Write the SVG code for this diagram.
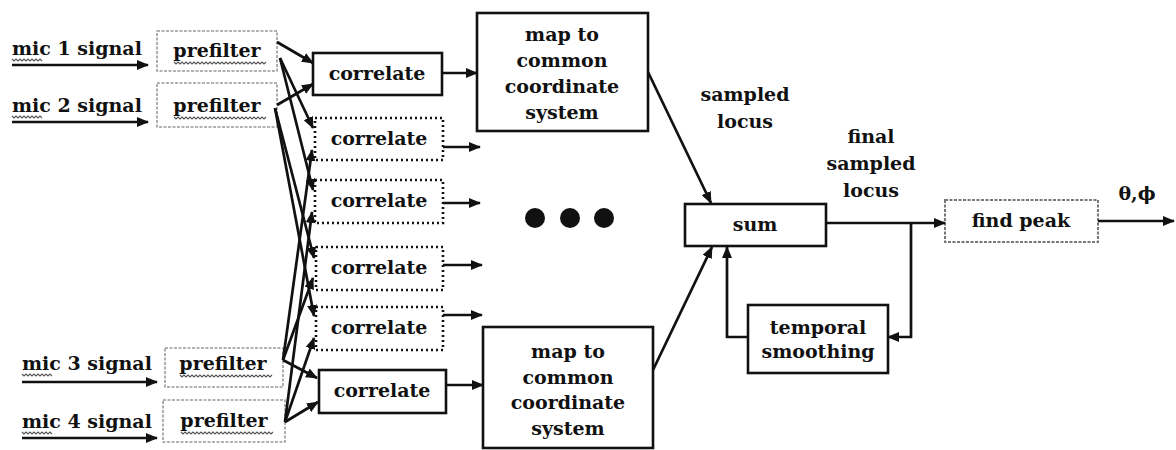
<svg xmlns="http://www.w3.org/2000/svg" width="1176" height="450" viewBox="0 0 1176 450">
<style>
text{font-family:"DejaVu Serif","Liberation Serif",serif;font-weight:bold;font-size:19px;fill:#111}
.c{text-anchor:middle}
.solid{fill:#fff;stroke:#111;stroke-width:2.6}
.dot{fill:#fff;stroke:#111;stroke-width:2.6;stroke-dasharray:2 3}
.pre{fill:#fff;stroke:#999;stroke-width:1.6;stroke-dasharray:3 1.5}
.ln{fill:none;stroke:#111;stroke-width:2.7;marker-end:url(#ah)}
.sq{fill:none;stroke:#555;stroke-width:1.1}
</style>
<defs>
<marker id="ah" markerUnits="userSpaceOnUse" markerWidth="12" markerHeight="10" refX="11" refY="5" orient="auto">
<path d="M0,0 L12,5 L0,10 Z" fill="#111"/>
</marker>
<path id="sq3" class="sq" d="M0,0 l2,2 l2,-2 l2,2 l2,-2 l2,2 l2,-2 l2,2 l2,-2 l2,2 l2,-2 l2,2 l2,-2 l2,2 l2,-2 l2,2"/>
<path id="sq9" class="sq" d="M0,0 l2,2 l2,-2 l2,2 l2,-2 l2,2 l2,-2 l2,2 l2,-2 l2,2 l2,-2 l2,2 l2,-2 l2,2 l2,-2 l2,2 l2,-2 l2,2 l2,-2 l2,2 l2,-2 l2,2 l2,-2 l2,2 l2,-2 l2,2 l2,-2 l2,2 l2,-2 l2,2 l2,-2 l2,2 l2,-2 l2,2 l2,-2 l2,2 l2,-2 l2,2 l2,-2 l2,2 l2,-2 l2,2 l2,-2 l2,2 l2,-2 l2,2 l2,-2"/>
</defs>
<rect width="1176" height="450" fill="#fff"/>

<g id="mic1"><text x="12" y="55">mic 1 signal</text><use href="#sq3" x="12" y="59"/></g>
<g id="mic2"><text x="12" y="112">mic 2 signal</text><use href="#sq3" x="12" y="116"/></g>
<g id="mic3"><text x="22" y="370">mic 3 signal</text><use href="#sq3" x="22" y="374"/></g>
<g id="mic4"><text x="22" y="428">mic 4 signal</text><use href="#sq3" x="22" y="432"/></g>

<g id="prefilter1"><rect class="pre" x="157" y="31" width="120" height="40"/><text class="c" x="217" y="57">prefilter</text><use href="#sq9" x="174" y="62"/></g>
<g id="prefilter2"><rect class="pre" x="157" y="83" width="120" height="44"/><text class="c" x="217" y="112">prefilter</text><use href="#sq9" x="174" y="117"/></g>
<g id="prefilter3"><rect class="pre" x="165" y="348" width="118" height="39"/><text class="c" x="223" y="370">prefilter</text><use href="#sq9" x="180" y="375"/></g>
<g id="prefilter4"><rect class="pre" x="163" y="400" width="122" height="42"/><text class="c" x="224" y="427">prefilter</text><use href="#sq9" x="181" y="432"/></g>

<g id="correlate1"><rect class="solid" x="313" y="53" width="129" height="42"/><text class="c" x="377" y="80">correlate</text></g>
<g id="correlate2"><rect class="dot" x="315" y="118" width="128" height="42"/><text class="c" x="379" y="145">correlate</text></g>
<g id="correlate3"><rect class="dot" x="315" y="180" width="128" height="43"/><text class="c" x="379" y="207">correlate</text></g>
<g id="correlate4"><rect class="dot" x="316" y="247" width="127" height="43"/><text class="c" x="379" y="274">correlate</text></g>
<g id="correlate5"><rect class="dot" x="316" y="307" width="127" height="43"/><text class="c" x="379" y="334">correlate</text></g>
<g id="correlate6"><rect class="solid" x="319" y="370" width="127" height="43"/><text class="c" x="382" y="397">correlate</text></g>

<g id="map1"><rect class="solid" x="477" y="13" width="171" height="118"/>
<text class="c" x="562" y="41">map to</text><text class="c" x="562" y="67">common</text><text class="c" x="562" y="93">coordinate</text><text class="c" x="562" y="119">system</text></g>
<g id="map2"><rect class="solid" x="483" y="327" width="170" height="121"/>
<text class="c" x="568" y="358">map to</text><text class="c" x="568" y="384">common</text><text class="c" x="568" y="409">coordinate</text><text class="c" x="568" y="435">system</text></g>

<g id="ellipsis"><circle cx="535" cy="218" r="10" fill="#111"/><circle cx="570" cy="218" r="10" fill="#111"/><circle cx="604" cy="218" r="10" fill="#111"/></g>

<g id="sum"><rect class="solid" x="685" y="204" width="141" height="42"/><text class="c" x="755" y="231">sum</text></g>
<g id="findpeak"><rect class="pre" x="945" y="200" width="153" height="42" style="stroke:#777;stroke-width:2"/><text class="c" x="1021" y="227">find peak</text></g>
<g id="temporal"><rect class="solid" x="748" y="305" width="140" height="68"/><text class="c" x="818" y="334">temporal</text><text class="c" x="818" y="358">smoothing</text></g>

<g id="labels">
<text class="c" x="745" y="101">sampled</text><text class="c" x="745" y="128">locus</text>
<text class="c" x="871" y="143">final</text><text class="c" x="871" y="170">sampled</text><text class="c" x="871" y="197">locus</text>
<text class="c" x="1137" y="200">θ,ϕ</text>
</g>

<g id="connectors">
<line class="ln" x1="12" y1="65" x2="148" y2="65"/>
<line class="ln" x1="12" y1="122" x2="148" y2="122"/>
<line class="ln" x1="22" y1="382" x2="157" y2="382"/>
<line class="ln" x1="22" y1="438" x2="157" y2="438"/>

<line class="ln" x1="277" y1="42" x2="313" y2="63"/>
<line class="ln" x1="277" y1="105" x2="313" y2="84"/>
<line class="ln" x1="280" y1="58" x2="313" y2="128"/>
<line class="ln" x1="280" y1="58" x2="313" y2="190"/>
<line class="ln" x1="275" y1="108" x2="314" y2="258"/>
<line class="ln" x1="275" y1="108" x2="314" y2="316"/>
<line class="ln" x1="283" y1="360" x2="312" y2="150"/>
<line class="ln" x1="283" y1="360" x2="313" y2="278"/>
<line class="ln" x1="283" y1="360" x2="317" y2="378"/>
<line class="ln" x1="285" y1="422" x2="312" y2="212"/>
<line class="ln" x1="285" y1="422" x2="314" y2="338"/>
<line class="ln" x1="285" y1="422" x2="318" y2="402"/>

<line class="ln" x1="442" y1="73" x2="477" y2="73"/>
<line class="ln" x1="443" y1="147" x2="480" y2="147"/>
<line class="ln" x1="443" y1="203" x2="480" y2="203"/>
<line class="ln" x1="443" y1="265" x2="482" y2="265"/>
<line class="ln" x1="443" y1="315" x2="482" y2="315"/>
<line class="ln" x1="446" y1="385" x2="483" y2="385"/>

<line class="ln" x1="648" y1="72" x2="711" y2="203"/>
<line class="ln" x1="653" y1="370" x2="712" y2="247"/>
<line class="ln" x1="826" y1="223" x2="945" y2="223"/>
<line class="ln" x1="1098" y1="221" x2="1174" y2="221"/>
<polyline class="ln" points="911,223 911,337 888,337"/>
<polyline class="ln" points="748,337 727,337 727,247"/>
</g>
</svg>
